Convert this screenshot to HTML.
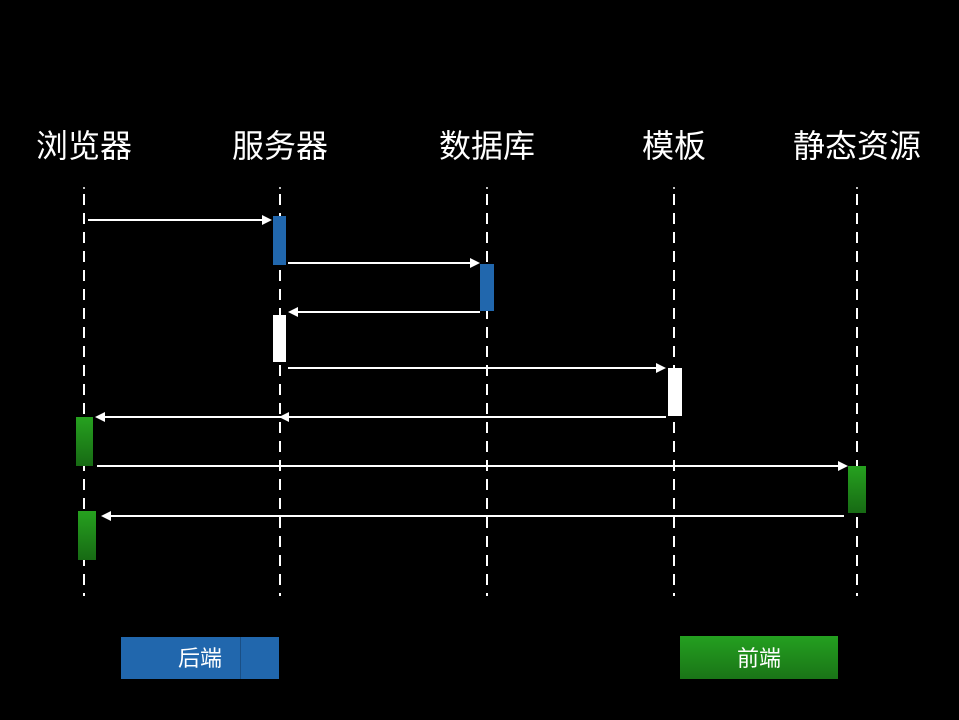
<!DOCTYPE html>
<html><head><meta charset="utf-8">
<style>
html,body{margin:0;padding:0;background:#000;}
svg{display:block;}
text{font-family:"Liberation Sans","Noto Sans CJK SC",sans-serif;fill:#fff;}
</style></head>
<body>
<svg width="959" height="720" viewBox="0 0 959 720" xmlns="http://www.w3.org/2000/svg">
<defs>
<linearGradient id="g" x1="0" y1="0" x2="0" y2="1"><stop offset="0" stop-color="#26a11f"/><stop offset="1" stop-color="#176a14"/></linearGradient>
<linearGradient id="g2" x1="0" y1="0" x2="0" y2="1"><stop offset="0" stop-color="#24a020"/><stop offset="1" stop-color="#1a7417"/></linearGradient>
</defs>
<rect width="959" height="720" fill="#000"/>
<g font-size="32" text-anchor="middle">
<text x="84" y="157">浏览器</text>
<text x="280" y="157">服务器</text>
<text x="487" y="157">数据库</text>
<text x="674" y="157">模板</text>
<text x="857" y="157">静态资源</text>
</g>
<g stroke="#fff" stroke-width="2" stroke-dasharray="11,8">
<line x1="84" y1="194" x2="84" y2="596"/>
<line x1="280" y1="194" x2="280" y2="596"/>
<line x1="487" y1="194" x2="487" y2="596"/>
<line x1="674" y1="194" x2="674" y2="596"/>
<line x1="857" y1="194" x2="857" y2="596"/>
</g>
<g fill="#fff"><circle cx="84" cy="188" r="1"/><circle cx="280" cy="188" r="1"/><circle cx="487" cy="188" r="1"/><circle cx="674" cy="188" r="1"/><circle cx="857" cy="188" r="1"/></g>
<!-- activation boxes -->
<rect x="273" y="216" width="13" height="49" fill="#2167ad"/>
<rect x="480" y="264" width="14" height="47" fill="#2167ad"/>
<rect x="273" y="315" width="13" height="47" fill="#fff"/>
<rect x="668" y="368" width="14" height="48" fill="#fff"/>
<rect x="76" y="417" width="17" height="49" fill="url(#g)"/>
<rect x="848" y="466" width="18" height="47" fill="url(#g)"/>
<rect x="78" y="511" width="18" height="49" fill="url(#g)"/>
<!-- arrows -->
<g stroke="#fff" stroke-width="2">
<line x1="88" y1="220" x2="264" y2="220"/>
<line x1="288" y1="263" x2="472" y2="263"/>
<line x1="296" y1="312" x2="480" y2="312"/>
<line x1="288" y1="368" x2="658" y2="368"/>
<line x1="104" y1="417" x2="666" y2="417"/>
<line x1="97" y1="466" x2="840" y2="466"/>
<line x1="109" y1="516" x2="844" y2="516"/>
</g>
<g fill="#fff">
<polygon points="272,220 262,215 262,225"/>
<polygon points="480,263 470,258 470,268"/>
<polygon points="288,312 298,307 298,317"/>
<polygon points="666,368 656,363 656,373"/>
<polygon points="95,417 105,412 105,422"/>
<polygon points="279,417 289,412 289,422"/>
<polygon points="848,466 838,461 838,471"/>
<polygon points="101,516 111,511 111,521"/>
</g>
<!-- legend -->
<rect x="121" y="637" width="158" height="42" fill="#2167ad"/>
<line x1="240.5" y1="637" x2="240.5" y2="679" stroke="#1a4f85" stroke-width="1"/>
<text x="200" y="666" font-size="22" text-anchor="middle">后端</text>
<rect x="680" y="636" width="158" height="43" fill="url(#g2)"/>
<text x="759" y="666" font-size="22" text-anchor="middle">前端</text>
</svg>
</body></html>
